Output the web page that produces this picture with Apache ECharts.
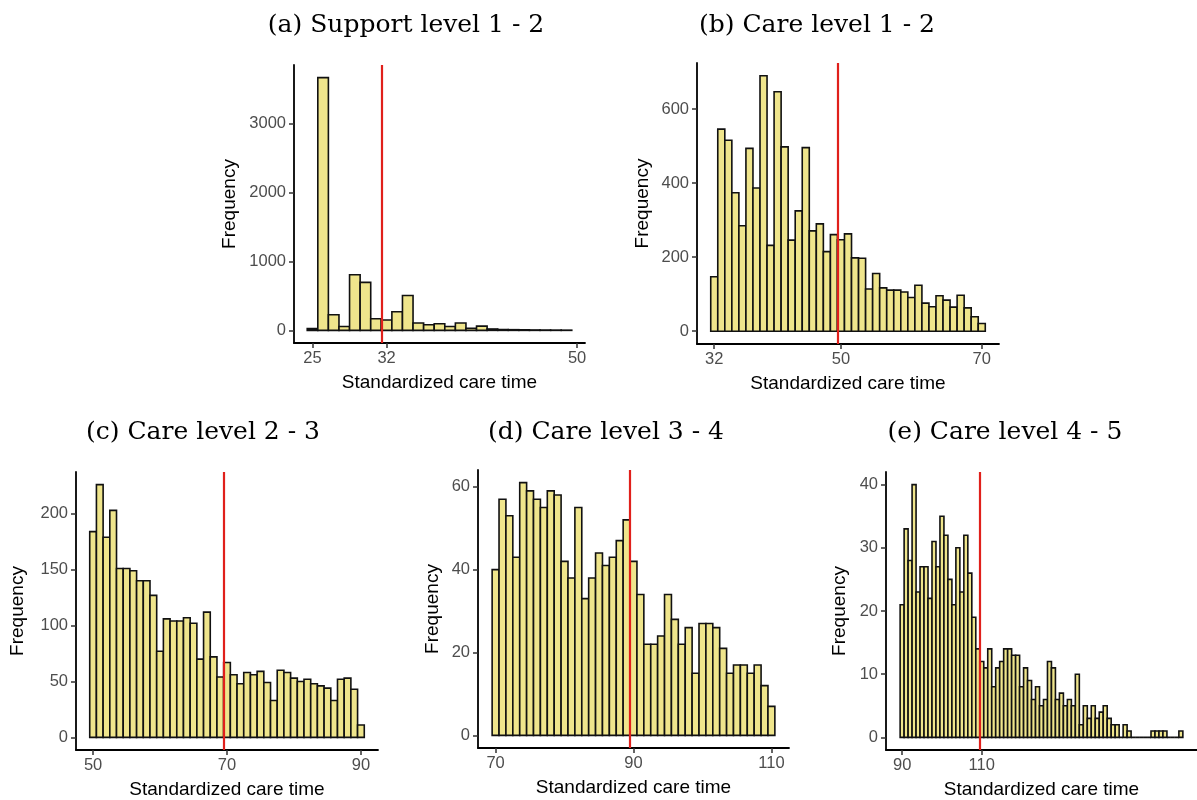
<!DOCTYPE html>
<html>
<head>
<meta charset="utf-8">
<script src="https://cdn.jsdelivr.net/npm/echarts@6/dist/echarts.min.js"></script>
<style>
html,body{margin:0;padding:0;background:#fff;}
#chart{width:1197px;height:800px;}
</style>
</head>
<body>
<div id="chart"></div>
<script>
// ---- Data ----
const titles = ['(a) Support level 1 - 2', '(b) Care level 1 - 2', '(c) Care level 2 - 3', '(d) Care level 3 - 4', '(e) Care level 4 - 5'];
const binWidth = 1;
const binStartA = 24.5;
const countsA = [25, 3661, 227, 55, 806, 695, 169, 150, 270, 506, 106, 82, 96, 55, 106, 30, 62, 20, 12, 10, 8, 6, 5, 4, 3];
const binStartB = 31.5;
const countsB = [147, 546, 516, 374, 285, 494, 387, 690, 232, 647, 498, 246, 325, 496, 271, 290, 215, 261,
                 247, 263, 198, 197, 114, 156, 117, 111, 111, 106, 91, 124, 76, 66, 96, 84, 65, 97, 63, 39, 21];
const binStartC = 49.5;
const countsC = [184, 226, 179, 203, 151, 151, 149, 140, 140, 127, 77, 106, 104, 104, 107, 102, 70, 112, 72, 54,
                 67, 56, 48, 58, 56, 59, 49, 33, 60, 58, 53, 50, 52, 48, 46, 44, 33, 52, 53, 43, 11];
const binStartD = 69.5;
const countsD = [40, 57, 53, 43, 61, 59, 57, 55, 59, 58, 42, 38, 55, 33, 38, 44, 41, 43, 47, 52,
                 42, 34, 22, 22, 24, 34, 28, 22, 26, 15, 27, 27, 26, 21, 15, 17, 17, 15, 17, 12, 7];
const binStartE = 89.5;
const countsE = [21, 33, 28, 40, 23, 27, 27, 22, 31, 27, 35, 32, 25, 21, 30, 23, 32, 26, 19, 14,
                 12, 11, 14, 8, 11, 12, 14, 14, 13, 13, 8, 11, 9, 6, 8, 5, 6, 12, 11, 6,
                 7, 5, 6, 5, 10, 2, 5, 3, 5, 3, 4, 5, 3, 2, 2, 0, 2, 1, 0, 0,
                 0, 0, 0, 1, 1, 1, 1, 0, 0, 0, 1];
const thresholds = [31.5, 49.5, 69.5, 89.5, 109.5];
const xTicksA = [25, 32, 50];
const xTicksB = [32, 50, 70];
const xTicksC = [50, 70, 90];
const xTicksD = [70, 90, 110];
const xTicksE = [90, 110];
const yTicksA = [0, 1000, 2000, 3000];
const yTicksB = [0, 200, 400, 600];
const yTicksC = [0, 50, 100, 150, 200];
const yTicksD = [0, 20, 40, 60];
const yTicksE = [0, 10, 20, 30, 40];
const xLabel = 'Standardized care time';
const yLabel = 'Frequency';

// ---- Layout (pixels) ----
const layouts = [
  {grid: {left: 294, top: 65, width: 291, height: 278}, title: [406, 25], yGap: 55},
  {grid: {left: 697, top: 63, width: 302, height: 281}, title: [817, 25], yGap: 45},
  {grid: {left: 76, top: 472, width: 302, height: 279}, title: [203, 432], yGap: 49},
  {grid: {left: 478, top: 470, width: 311, height: 278}, title: [606, 432], yGap: 36},
  {grid: {left: 886, top: 472, width: 315, height: 279}, title: [1005, 432], yGap: 37}
];

const panels = [
  {start: binStartA, counts: countsA, xt: xTicksA, yt: yTicksA},
  {start: binStartB, counts: countsB, xt: xTicksB, yt: yTicksB},
  {start: binStartC, counts: countsC, xt: xTicksC, yt: yTicksC},
  {start: binStartD, counts: countsD, xt: xTicksD, yt: yTicksD},
  {start: binStartE, counts: countsE, xt: xTicksE, yt: yTicksE}
];

const FILL = '#EFE58C';
const RED = '#E0201B';
const sans = 'Liberation Sans, Arial, sans-serif';
const plain = v => String(v);

const grids = [], xAxes = [], yAxes = [], series = [], graphics = [];

panels.forEach((p, i) => {
  const n = p.counts.length;
  const x0 = p.start, x1 = p.start + n * binWidth;
  const xr = x1 - x0;
  const ymax = Math.max.apply(null, p.counts);
  const data = p.counts.map((c, k) => [x0 + k * binWidth, x0 + (k + 1) * binWidth, c]);
  grids.push(Object.assign({containLabel: false}, layouts[i].grid));
  xAxes.push({
    gridIndex: i, type: 'value',
    min: x0 - 0.05 * xr, max: x1 + 0.05 * xr,
    axisLine: {show: true, onZero: false, lineStyle: {color: '#000', width: 1.8}},
    axisTick: {show: true, customValues: p.xt, length: 5, lineStyle: {color: '#333', width: 1.5}},
    axisLabel: {customValues: p.xt, formatter: plain, color: '#4d4d4d', fontSize: 16.5, fontFamily: sans, margin: 7},
    splitLine: {show: false},
    name: xLabel, nameLocation: 'middle', nameGap: 30,
    nameTextStyle: {color: '#000', fontSize: 19, fontFamily: sans}
  });
  yAxes.push({
    gridIndex: i, type: 'value',
    min: -0.05 * ymax, max: 1.05 * ymax,
    axisLine: {show: true, onZero: false, lineStyle: {color: '#000', width: 1.8}},
    axisTick: {show: true, customValues: p.yt, length: 5, lineStyle: {color: '#333', width: 1.5}},
    axisLabel: {customValues: p.yt, formatter: plain, color: '#4d4d4d', fontSize: 16.5, fontFamily: sans, margin: 8},
    splitLine: {show: false},
    name: yLabel, nameLocation: 'middle', nameGap: layouts[i].yGap, nameRotate: 90,
    nameTextStyle: {color: '#000', fontSize: 19, fontFamily: sans}
  });
  series.push({
    type: 'custom',
    xAxisIndex: i, yAxisIndex: i,
    data: data,
    encode: {x: [0, 1], y: 2},
    clip: false,
    renderItem: function (params, api) {
      const a = api.coord([api.value(0), api.value(2)]);
      const b = api.coord([api.value(1), 0]);
      return {
        type: 'rect',
        shape: {x: a[0], y: a[1], width: b[0] - a[0], height: b[1] - a[1]},
        style: {fill: FILL, stroke: '#111', lineWidth: 1.6}
      };
    },
    markLine: {
      silent: true, animation: false,
      symbol: ['none', 'none'],
      label: {show: false},
      lineStyle: {color: RED, width: 2.2, type: 'solid'},
      data: [{xAxis: thresholds[i]}]
    }
  });
  graphics.push({
    type: 'text', x: layouts[i].title[0], y: layouts[i].title[1],
    style: {text: titles[i], textAlign: 'center', textVerticalAlign: 'middle',
            font: '25px "DejaVu Serif", serif', fill: '#000'}
  });
});

const chart = echarts.init(document.getElementById('chart'));
chart.setOption({
  animation: false,
  backgroundColor: '#fff',
  grid: grids, xAxis: xAxes, yAxis: yAxes, series: series,
  graphic: graphics
});
</script>
</body>
</html>
